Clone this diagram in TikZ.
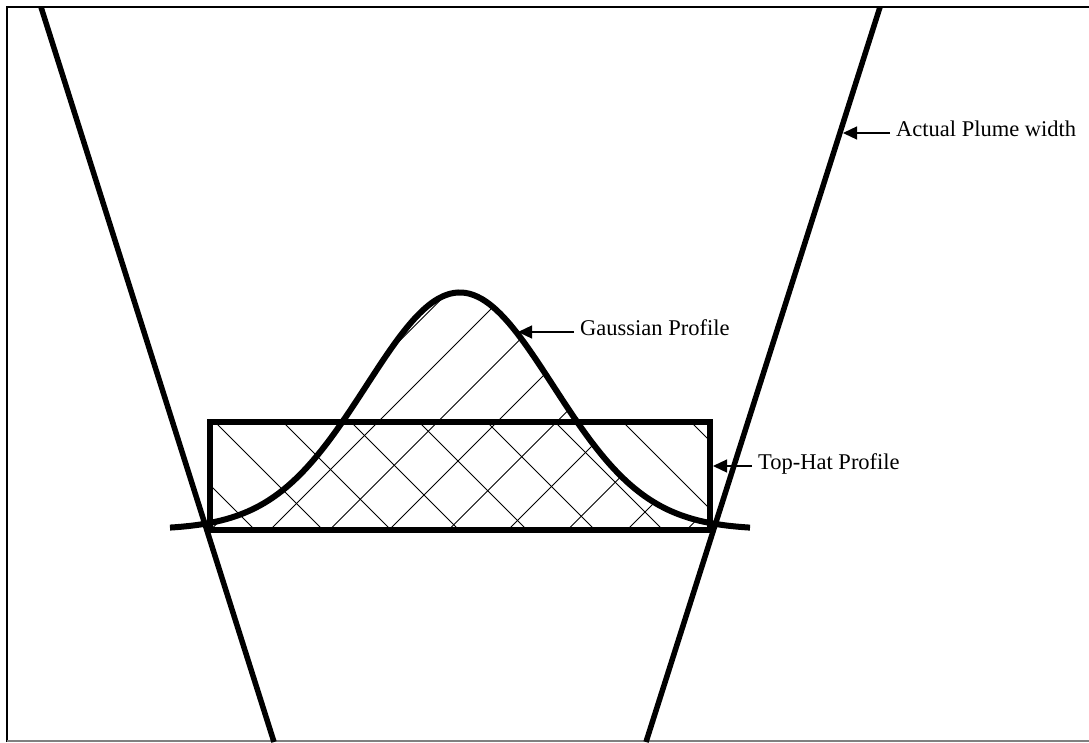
\documentclass[tikz,border=0pt]{standalone}
\usepackage{fontspec}
\setmainfont{Liberation Serif}
\usepackage{tikz}
\usetikzlibrary{arrows.meta}

\begin{document}
\begin{tikzpicture}[
    x=1pt, y=-1pt,
    declare function={gauss(\t)=529.5-237*exp(-0.5*((\t-459.75)/93.4)^2);},
    thickline/.style={line width=5.5pt},
    hatchline/.style={line width=0.8pt},
    callout/.style={anchor=west, inner xsep=6pt, inner ysep=0pt, text height=0.66em, text depth=0pt, font=\fontsize{22.5}{27}\selectfont},
    arrow/.style={-{Triangle[length=14pt, width=13pt]}, line width=1.3pt}
]
    \useasboundingbox (0,0) rectangle (1089,742);
    \fill[white] (0,0) rectangle (1089,742);

    \begin{scope}
        \clip (210,421.5) rectangle (709.5,529.5);
        \foreach \k in {-1,...,8}
            \draw[hatchline] ({-275+68*\k+400},400) -- ({-275+68*\k+560},560);
    \end{scope}
    \begin{scope}
        \clip plot[domain=170:750, samples=150] (\x,{gauss(\x)}) -- cycle;
        \foreach \k in {-2,...,8}
            \draw[hatchline] ({800+59.5*\k-560},560) -- ({800+59.5*\k-280},280);
    \end{scope}

    \draw[line width=2pt] (1089,7) -- (7,7) -- (7,742);
    \draw[gray, line width=1.5pt] (7,741) -- (1089,741);

    \draw[thickline] (41,7) -- (274,742);
    \draw[thickline] (880,7) -- (646,742);
    \draw[thickline, line width=6pt] (210,421.5) rectangle (709.5,529.5);
    \draw[thickline, line width=6pt] plot[domain=170:750, samples=150, smooth] (\x,{gauss(\x)});

    \coordinate (plumetip) at (843,133);
    \coordinate (gausstip) at (518,332);
    \coordinate (hattip)   at (713,466);

    \node[callout] (plume) at (890,133) {Actual Plume width};
    \node[callout] (gauss) at (574,332) {Gaussian Profile};
    \node[callout] (hat)   at (752,466) {Top-Hat Profile};

    \draw[arrow] (plume.west) -- (plumetip);
    \draw[arrow] (gauss.west) -- (gausstip);
    \draw[arrow] (hat.west) -- (hattip);
\end{tikzpicture}
\end{document}
